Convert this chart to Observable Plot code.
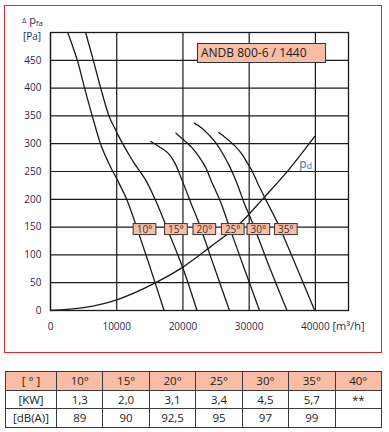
<!DOCTYPE html>
<html><head><meta charset="utf-8">
<script src="https://cdn.jsdelivr.net/npm/d3@7"></script>
<script src="https://cdn.jsdelivr.net/npm/@observablehq/plot@0.6"></script>
<style>
body{margin:0;background:#fff;font-family:"Open Sans",sans-serif;}
#wrap{position:relative;width:389px;height:432px;overflow:hidden;background:#fff;}
#border{position:absolute;left:4px;top:5px;width:376px;height:346px;border:1px solid #e3262d;box-sizing:content-box;pointer-events:none;}
#chart{position:absolute;left:0;top:0;}
#ytitle{position:absolute;left:22px;top:14px;color:#1f2a52;font-size:11px;line-height:12px;white-space:nowrap;}
#yunit{position:absolute;left:23px;top:30px;color:#1f2a52;font-size:10px;line-height:12px;}
#title{position:absolute;left:197px;top:43px;width:124px;height:18px;background:#f9bca4;border:1px solid #333;font-size:12px;line-height:18px;padding-left:3px;color:#222;box-sizing:content-box;white-space:nowrap;}
#tbl{position:absolute;left:5px;top:371px;width:377px;border-collapse:collapse;table-layout:fixed;font-size:11.5px;color:#222;}
#tbl td{border:1px solid #3a3a3a;text-align:center;padding:0;height:17.5px;line-height:17px;}
#tbl tr.head td{background:#f9bca4;}
</style></head>
<body>
<div id="wrap">
  <div id="chart"></div>
  <div id="border"></div>
  <div id="ytitle"><span style="font-size:7.5px;position:relative;top:-1px">Δ</span> p<span style="font-size:7.5px;position:relative;top:2px">fa</span></div>
  <div id="yunit">[Pa]</div>
  <div id="title">ANDB 800-6 / 1440</div>
  <table id="tbl"></table>
</div>
<script>
// Axis ticks
const xTicks = [0, 10000, 20000, 30000, 40000];
const yTicks = [0, 50, 100, 150, 200, 250, 300, 350, 400, 450];
const yGrid = [0, 50, 100, 150, 200, 250, 300, 350, 400, 450, 500];

// Fan curves: [airflow m³/h, pressure Pa]
const curve10 = [[2600,500],[4050,450],[5150,400],[6300,350],[7550,300],[8400,275],[9200,255],[10300,230],[11500,200],[13000,150],[14700,90],[17150,0]];
const curve15 = [[5300,500],[6470,450],[7580,400],[8860,349],[9700,328],[10230,315],[10860,301],[11670,284],[12580,266],[14400,234],[16200,189],[17730,144],[20000,76],[22120,0]];
const curve20 = [[15150,304],[16360,295],[17680,284],[18790,265],[19700,239],[20600,212],[21210,193],[22420,157],[24700,79],[27020,0]];
const curve25 = [[18940,319],[20200,306],[21360,293],[22470,276],[23480,256],[24240,234],[25000,214],[25760,193],[27020,150],[29240,76],[31560,0]];
const curve30 = [[21710,337],[22880,328],[23980,315],[25000,301],[26020,282],[26970,261],[27770,240],[28560,216],[29290,192],[30560,156],[33030,79],[35710,0]];
const curve35 = [[25410,320],[26520,310],[27770,297],[28790,283],[29800,264],[30610,247],[31320,228],[32830,192],[34350,156],[37120,79],[39890,0]];
const pdCurve = [[0,0],[5000,5],[10000,19],[15900,50],[20000,78],[24100,114],[28300,153],[32300,204],[35900,252],[39900,313]];

// Angle labels
const angles = ["10°","15°","20°","25°","30°","35°"];
const labelQ = [14200, 18940, 23230, 27520, 31390, 35530];
const labelP = 145;

// Table
const tableAngles = ["10°","15°","20°","25°","30°","35°","40°"];
const powerKW = ["1,3","2,0","3,1","3,4","4,5","5,7","**"];
const noiseDBA = ["89","90","92,5","95","97","99",""];

const curves = [curve10, curve15, curve20, curve25, curve30, curve35];
const fanRows = curves.flatMap((c, i) => c.map(([q, p]) => ({angle: angles[i], q, p})));
const labelRows = angles.map((a, i) => ({text: a, q: labelQ[i], p: labelP}));

const ink = "#1a1a1a";
const plot = Plot.plot({
  width: 389, height: 352,
  marginLeft: 50, marginTop: 32, marginRight: 41, marginBottom: 42,
  style: {fontFamily: "Open Sans", fontSize: "10px", color: "#1f2a52", background: "transparent"},
  x: {domain: [0, 45000], ticks: xTicks, tickSize: 0, tickPadding: 12, tickFormat: d3.format("d"), label: null},
  y: {domain: [0, 500], ticks: yTicks, tickSize: 0, tickPadding: 9, label: null},
  marks: [
    Plot.ruleX(xTicks, {stroke: ink, strokeWidth: 1.2}),
    Plot.ruleY(yGrid, {stroke: ink, strokeWidth: 1.2}),
    Plot.frame({stroke: ink, strokeWidth: 1.3}),
    Plot.line(fanRows, {x: "q", y: "p", z: "angle", curve: "catmull-rom", stroke: ink, strokeWidth: 1.3}),
    Plot.line(pdCurve, {x: d => d[0], y: d => d[1], curve: "catmull-rom", stroke: ink, strokeWidth: 1.3}),
    Plot.text(labelRows, {x: "q", y: "p", text: "text", fill: "#333", fontSize: 10}),
    Plot.text(["p"], {x: 38100, y: 264, text: d => d, fill: "#2e6db4", fontSize: 12}),
    Plot.text(["d"], {x: 38100, y: 264, text: d => d, fill: "#2e6db4", fontSize: 8.5, dx: 6.5, dy: 2.5}),
    Plot.text(["[m³/h]"], {frameAnchor: "bottom-right", text: d => d, textAnchor: "middle", lineAnchor: "middle", dy: 16, fontSize: 11, fill: "#1f2a52"})
  ]
});
document.getElementById("chart").append(plot);

// boxes behind angle labels
const svgNS = "http://www.w3.org/2000/svg";
plot.querySelectorAll("text").forEach(t => {
  if (!angles.includes(t.textContent)) return;
  const b = t.getBBox();
  const r = document.createElementNS(svgNS, "rect");
  const cy = b.y + b.height / 2;
  r.setAttribute("x", b.x - 3.5);
  r.setAttribute("y", cy - 5.5);
  r.setAttribute("width", b.width + 7);
  r.setAttribute("height", 11);
  r.setAttribute("fill", "#f9bca4");
  r.setAttribute("stroke", "#333");
  r.setAttribute("stroke-width", 1);
  if (t.getAttribute("transform")) r.setAttribute("transform", t.getAttribute("transform"));
  t.parentNode.insertBefore(r, t);
});

// table
const tbl = document.getElementById("tbl");
const colgroup = document.createElement("colgroup");
colgroup.innerHTML = '<col style="width:51px">' + tableAngles.map(() => '<col>').join("");
tbl.append(colgroup);
const rowsData = [["[ ° ]", tableAngles, "head"], ["[KW]", powerKW, ""], ["[dB(A)]", noiseDBA, ""]];
rowsData.forEach(([h, vals, cls]) => {
  const tr = document.createElement("tr");
  if (cls) tr.className = cls;
  [h, ...vals].forEach(v => { const td = document.createElement("td"); td.textContent = v; tr.append(td); });
  tbl.append(tr);
});
</script>
</body></html>
